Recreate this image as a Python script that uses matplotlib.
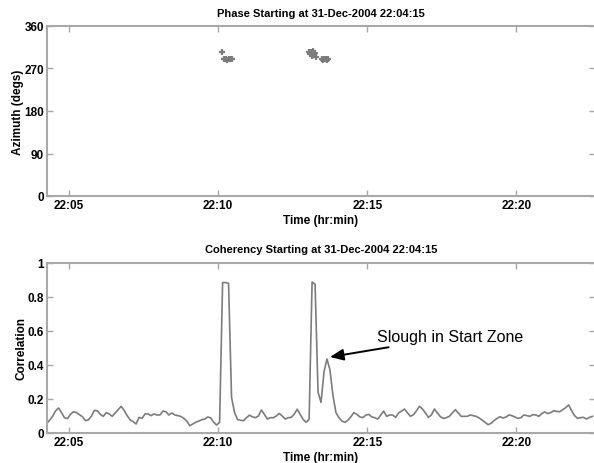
import numpy as np
import matplotlib
matplotlib.use("Agg")
import matplotlib.pyplot as plt

plt.rcParams['font.family'] = ['Liberation Sans', 'DejaVu Sans']

# time axis: minutes after 22:04:15
tick_pos = [0.75, 5.75, 10.75, 15.75]
tick_labels = ['22:05', '22:10', '22:15', '22:20']

# coherency samples every 0.1 min from 0.0 to 18.3
corr = [
    0.055, 0.075, 0.098, 0.13, 0.147, 0.12, 0.09, 0.085, 0.11, 0.125,
    0.12, 0.108, 0.096, 0.073, 0.077, 0.098, 0.133, 0.131, 0.11, 0.098,
    0.12, 0.112, 0.098, 0.118, 0.137, 0.157, 0.133, 0.102, 0.078, 0.067,
    0.053, 0.092, 0.086, 0.112, 0.112, 0.102, 0.112, 0.106, 0.106, 0.129,
    0.125, 0.106, 0.118, 0.106, 0.102, 0.098, 0.086, 0.07, 0.043, 0.053,
    0.063, 0.07, 0.078, 0.082, 0.094, 0.09, 0.063, 0.047, 0.063, 0.885,
    0.885, 0.88, 0.21, 0.12, 0.08, 0.075, 0.072, 0.09, 0.105, 0.095,
    0.09, 0.1, 0.135, 0.11, 0.082, 0.09, 0.09, 0.1, 0.115, 0.1,
    0.082, 0.09, 0.092, 0.11, 0.14, 0.11, 0.08, 0.063, 0.08, 0.888,
    0.875, 0.24, 0.18, 0.36, 0.435, 0.37, 0.22, 0.12, 0.09, 0.07,
    0.063, 0.075, 0.095, 0.12, 0.11, 0.095, 0.09, 0.105, 0.11, 0.095,
    0.09, 0.082, 0.106, 0.129, 0.098, 0.106, 0.106, 0.092, 0.118, 0.129,
    0.141, 0.118, 0.098, 0.108, 0.131, 0.157, 0.141, 0.118, 0.092, 0.106,
    0.141, 0.118, 0.096, 0.086, 0.09, 0.098, 0.118, 0.137, 0.118, 0.098,
    0.098, 0.098, 0.106, 0.102, 0.098, 0.088, 0.076, 0.063, 0.049, 0.057,
    0.073, 0.086, 0.096, 0.088, 0.094, 0.106, 0.102, 0.094, 0.086, 0.09,
    0.106, 0.102, 0.098, 0.108, 0.106, 0.098, 0.114, 0.124, 0.114, 0.12,
    0.131, 0.127, 0.125, 0.137, 0.149, 0.165, 0.131, 0.102, 0.086, 0.09,
    0.092, 0.082, 0.092, 0.098,
]
corr_t = np.arange(len(corr)) * 0.1

# phase (azimuth) estimates during high coherency
phase_t = [5.89, 5.95, 6.0, 6.05, 6.1, 6.15, 6.2,
           8.8, 8.84, 8.87, 8.9, 8.93, 8.96, 8.99, 9.02,
           9.23, 9.27, 9.31, 9.35, 9.39, 9.44]
phase_az = [305, 291, 290, 289, 290, 291, 290,
            306, 300, 304, 296, 307, 299, 302, 294,
            290, 289, 291, 290, 289, 291]

W, H = 594, 464
fig = plt.figure(figsize=(W / 100, H / 100), dpi=100)

left = 46.6 / W
xmax = 18.4
width = xmax * 29.83 / W
ax1 = fig.add_axes([left, (H - 197) / H, width, 170 / H])
ax2 = fig.add_axes([left, (H - 434) / H, width, 170 / H])

gray = '#7c7c7c'
spine_c = '#a8a8a8'

ax1.plot(phase_t, phase_az, linestyle='none', marker='+', color=gray,
         markersize=5, markeredgewidth=1.6)
ax2.plot(corr_t, corr, color=gray, linewidth=1.2)

for ax in (ax1, ax2):
    ax.set_xlim(0, xmax)
    ax.set_xticks(tick_pos)
    ax.set_xticklabels(tick_labels)
    for s in ax.spines.values():
        s.set_color(spine_c)
        s.set_linewidth(1.5)
    ax.tick_params(direction='in', length=4, width=1, color=spine_c,
                   top=True, right=True, labelsize=8.5, pad=2)
    for lab in ax.get_xticklabels() + ax.get_yticklabels():
        lab.set_fontweight('bold')
    ax.set_xlabel('Time (hr:min)', fontsize=8.5, fontweight='bold', labelpad=2.5)

ax1.set_ylim(0, 360)
ax1.set_yticks([0, 90, 180, 270, 360])
for lab in ax1.get_yticklabels():
    lab.set_fontweight('bold')
ax1.set_ylabel('Azimuth (degs)', fontsize=8.5, fontweight='bold', labelpad=0)
ax1.set_title('Phase Starting at 31-Dec-2004 22:04:15', fontsize=8,
              fontweight='bold', pad=7)

ax2.set_ylim(0, 1)
ax2.set_yticks([0, 0.2, 0.4, 0.6, 0.8, 1])
ax2.set_yticklabels(['0', '0.2', '0.4', '0.6', '0.8', '1'])
for lab in ax2.get_yticklabels():
    lab.set_fontweight('bold')
ax2.set_ylabel('Correlation', fontsize=8.5, fontweight='bold', labelpad=0)
ax2.set_title('Coherency Starting at 31-Dec-2004 22:04:15', fontsize=8,
              fontweight='bold', pad=8)

ax2.annotate('Slough in Start Zone', xy=(9.5, 0.447), xytext=(11.08, 0.565),
             fontsize=11.5, va='center', ha='left',
             arrowprops=dict(arrowstyle='-|>,head_length=0.7,head_width=0.3',
                             color='black', lw=1.4, shrinkA=0, shrinkB=0))

fig.savefig('out.png', dpi=100)
